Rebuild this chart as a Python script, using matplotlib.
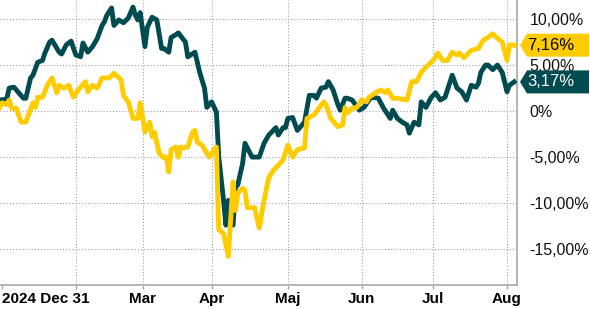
import matplotlib
matplotlib.use('Agg')
import matplotlib.pyplot as plt
from matplotlib.patches import Polygon

plt.rcParams['font.family'] = ['Liberation Sans', 'DejaVu Sans']

# days after 2024-12-31 and return in percent
dark_days = [-1, 2, 3, 5, 7, 9, 10, 12, 13, 15, 17, 18, 20, 21, 24, 25, 27, 29, 31, 33,
             34, 36, 38, 40, 42, 43, 44, 46, 47, 49, 51, 53, 55, 56, 57, 58, 60, 61, 63, 65,
             67, 68, 70, 71, 73, 74, 77, 78, 81, 83, 85, 86, 88, 90, 91, 93, 94, 95, 97, 98,
             99, 101, 102, 105, 108, 110, 112, 115, 116, 118, 119, 120, 122, 124, 126, 127, 129, 131, 132, 134,
             136, 137, 139, 141, 142, 144, 145, 147, 150, 152, 154, 155, 158, 160, 163, 164, 166, 168, 170, 171,
             173, 175, 176, 178, 180, 182, 184, 186, 187, 189, 191, 193, 195, 197, 199, 200, 201, 203, 204, 206,
             208, 210, 212, 213, 215]
dark_vals = [1.2, 1.3, 2.5, 2.6, 2.0, 1.4, 1.4, 3.6, 3.9, 5.3, 5.5, 6.3, 7.5, 7.7, 6.4, 6.2, 7.2, 7.6, 6.1, 5.9,
             7.4, 6.4, 7.0, 7.9, 9.3, 9.7, 10.4, 11.2, 9.3, 9.9, 9.6, 10.1, 11.3, 10.4, 9.9, 10.7, 7.0, 9.1, 10.2, 9.9,
             6.8, 6.8, 6.4, 8.0, 8.3, 8.5, 7.5, 5.9, 6.4, 4.2, 2.5, 0.4, 1.0, -0.1, -5.0, -9.7, -12.4, -9.7, -12.4, -8.3,
             -8.0, -5.7, -3.5, -5.0, -5.0, -3.5, -2.6, -1.8, -2.6, -1.8, -1.8, -0.8, -0.7, -2.1, -1.5, -1.2, 1.7, 1.7, 1.4, 2.5,
             2.6, 3.2, 2.3, 0.7, 0.1, 1.4, 1.4, 1.2, 0.1, 0.4, 1.2, 1.5, 1.4, 0.4, -0.8, 0.1, -0.8, -1.2, -1.5, -2.4,
             -1.2, -1.5, 1.0, 0.4, 1.4, 2.0, 1.2, 1.5, 2.3, 3.9, 2.5, 2.1, 1.2, 2.8, 2.6, 3.0, 4.2, 5.0, 5.0, 4.5,
             5.0, 4.2, 2.1, 2.8, 3.17]

gold_days = [-1, 0, 2, 3, 4, 6, 8, 10, 13, 14, 15, 17, 19, 21, 23, 24, 26, 28, 30, 32,
             35, 36, 38, 40, 42, 45, 47, 50, 51, 53, 55, 57, 58, 60, 62, 63, 64, 66, 68, 69,
             70, 71, 73, 74, 75, 76, 78, 80, 81, 82, 84, 86, 87, 89, 90, 91, 93, 95, 97, 98,
             99, 101, 102, 103, 106, 108, 110, 112, 114, 116, 118, 120, 122, 124, 127, 128, 131, 133, 135, 136,
             138, 141, 143, 144, 145, 147, 149, 151, 153, 154, 157, 159, 161, 162, 164, 166, 170, 172, 174, 176,
             178, 179, 181, 183, 185, 187, 189, 191, 192, 194, 197, 200, 202, 204, 206, 208, 210, 212, 213, 215]
gold_vals = [0.4, 0.9, 0.7, 1.2, 0.3, 0.3, -1.2, -1.2, 0.9, 0.4, 1.5, 1.5, 2.8, 3.6, 2.0, 2.8, 2.5, 2.8, 1.5, 2.3,
             3.2, 2.1, 2.8, 2.5, 3.6, 3.6, 4.1, 3.4, 1.7, 1.0, -0.8, -0.8, 0.9, -2.3, -1.2, -2.8, -2.3, -4.6, -5.1, -5.0,
             -6.6, -4.2, -3.9, -5.0, -3.9, -4.0, -3.9, -2.3, -2.1, -3.4, -3.7, -4.6, -5.0, -4.2, -3.9, -12.9, -13.3, -15.8, -7.7, -10.8,
             -8.9, -8.4, -8.6, -10.5, -10.5, -12.7, -9.7, -7.2, -6.4, -5.9, -5.3, -3.7, -5.0, -4.2, -4.0, -0.8, -0.4, 0.3, 1.0, 0.7,
             -0.8, -1.7, -1.5, 0.4, -0.2, 0.3, 0.4, 1.2, 1.0, 1.5, 2.0, 2.3, 2.0, 2.3, 1.4, 1.4, 1.2, 3.2, 3.2, 4.2,
             4.8, 5.0, 5.5, 6.3, 5.5, 5.5, 6.4, 6.1, 6.3, 5.8, 6.6, 6.8, 7.7, 8.0, 8.4, 7.9, 7.5, 5.5, 7.2, 7.16]

tick_days = [0, 31, 59, 88, 120, 151, 181, 212]
tick_labels = ['2024 Dec 31', '', 'Mar', 'Apr', 'Maj', 'Jun', 'Jul', 'Aug']
y_ticks = [10, 5, 0, -5, -10, -15]
y_labels = ['10,00%', '5,00%', '0%', '-5,00%', '-10,00%', '-15,00%']

DARK = '#004b50'
GOLD = '#ffcc00'
W, H = 590, 309

fig = plt.figure(figsize=(W / 100, H / 100), dpi=100)
ax = fig.add_axes([0, 1 - 285 / H, 517 / W, 285 / H])

for y in y_ticks:
    ax.axhline(y, color='#999999', lw=0.75, ls=(0, (1, 2)), zorder=1)
for d in tick_days[1:]:
    ax.axvline(d, color='#999999', lw=0.75, ls=(0, (1, 2)), zorder=1)

ax.plot(dark_days, dark_vals, color=DARK, lw=3.5, solid_joinstyle='round', zorder=3)
ax.plot(gold_days, gold_vals, color=GOLD, lw=3.5, solid_joinstyle='round', zorder=4)

ax.set_xlim(-0.84, 216.2)
ax.set_ylim(-18.9, 12.07)

for s in ['left', 'top']:
    ax.spines[s].set_visible(False)
for s in ['right', 'bottom']:
    ax.spines[s].set_color('#a8a8a8')
    ax.spines[s].set_linewidth(1.2)

ax.yaxis.tick_right()
ax.set_yticks(y_ticks)
ax.set_yticklabels(y_labels, fontsize=11.5, color='#111111')
ax.tick_params(axis='y', length=0, pad=9)

ax.set_xticks(tick_days)
ax.set_xticklabels(tick_labels, fontsize=11, fontweight='bold', color='black')
ax.tick_params(axis='x', direction='out', length=3, width=1, color='#a8a8a8', pad=2)
ax.get_xticklabels()[0].set_horizontalalignment('left')

# value badges at the right edge
fig.canvas.draw()
for val, face, tcol in [(gold_vals[-1], GOLD, 'black'), (dark_vals[-1], DARK, 'white')]:
    py = ax.transData.transform((0, val))[1]
    pts = [(520, py), (527, py + 11.5), (589, py + 11.5), (589, py - 11.5), (527, py - 11.5)]
    pts = [(x / W, y / H) for x, y in pts]
    fig.add_artist(Polygon(pts, closed=True, facecolor=face, edgecolor='none',
                           transform=fig.transFigure, zorder=5))
    fig.text(527 / W, py / H, ('%.2f%%' % val).replace('.', ','), color=tcol,
             fontsize=12, va='center', ha='left', zorder=6)

fig.savefig('out.png', dpi=100)
